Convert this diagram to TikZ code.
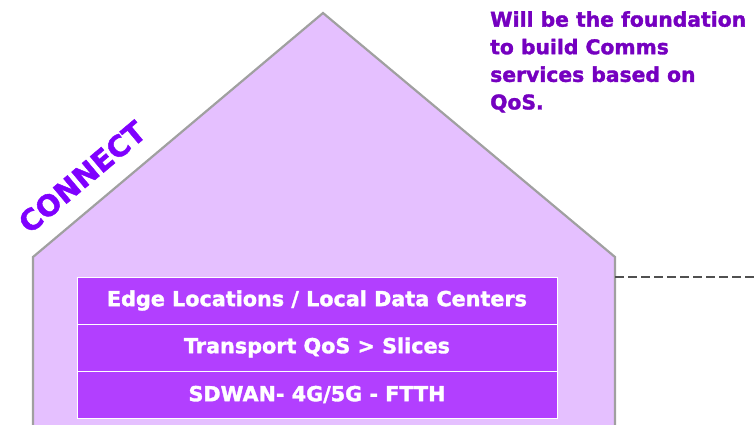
\documentclass[tikz,border=0pt]{standalone}
\usepackage{fontspec}
\setmainfont{DejaVu Sans}[BoldFeatures={FakeBold=1.6}]
\definecolor{housefill}{HTML}{E5C0FF}
\definecolor{houseline}{HTML}{A0A0A0}
\definecolor{boxfill}{HTML}{B23FFF}
\definecolor{notecol}{HTML}{7500C0}
\definecolor{conncol}{HTML}{7F00FF}
\definecolor{dashcol}{HTML}{505050}
\tikzset{
  layerbox/.style={draw=white, line width=0.8bp, fill=boxfill, minimum width=480bp, minimum height=47bp, inner sep=0pt, text=white, font=\fontsize{20.8}{24}\selectfont\bfseries},
  notetext/.style={text=notecol, align=left, anchor=north west, inner sep=0pt, font=\fontsize{20.4}{27.7}\selectfont\bfseries},
  conntext/.style={text=conncol, inner sep=0pt, font=\fontsize{29}{32}\selectfont\bfseries},
  dashline/.style={draw=dashcol, line width=2.5bp, dash pattern=on 9bp off 4bp}
}
\begin{document}
\begin{tikzpicture}[x=1bp,y=-1bp]
\useasboundingbox (0,0) rectangle (756,424);
\clip (0,0) rectangle (756,424);
\filldraw[fill=housefill, draw=houseline, line width=2.2bp, line join=miter]
  (33,440) -- (33,257) -- (323,13) -- (615,257) -- (615,440);
\coordinate (wallR) at (615,277);
\coordinate (dashend) at (760,277);
\draw[dashline] (wallR) -- (dashend);
\node[layerbox] (edge) at (317,300.5) {Edge Locations / Local Data Centers};
\node[layerbox] (transport) at (317,347.5) {Transport QoS > Slices};
\node[layerbox] (sdwan) at (317,394.5) {SDWAN- 4G/5G - FTTH};
\node[conntext, rotate=40] (connect) at (82,177) {CONNECT};
\node[notetext] (note) at (490,11) {Will be the foundation\\to build Comms\\services based on\\QoS.};
\end{tikzpicture}
\end{document}
